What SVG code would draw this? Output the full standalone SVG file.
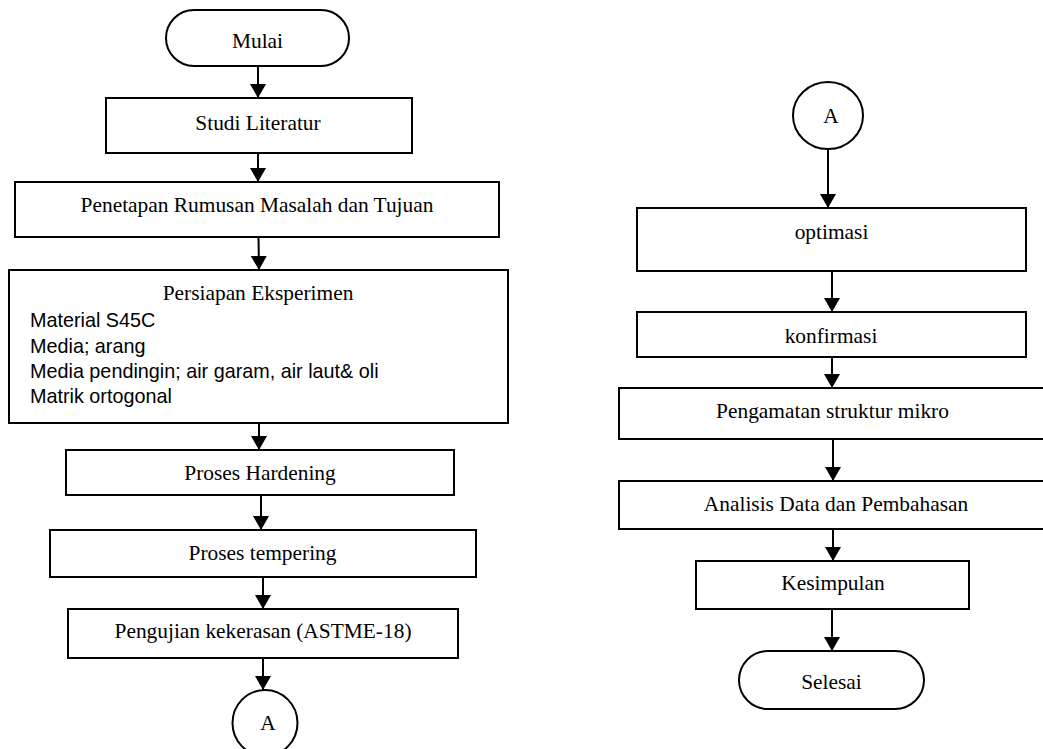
<svg xmlns="http://www.w3.org/2000/svg" width="1043" height="749" viewBox="0 0 1043 749">
<style>
.box{fill:#fff;stroke:#000;stroke-width:2}
.t{font-family:"Liberation Serif","Times New Roman",serif;font-size:21.4px;fill:#000;text-anchor:middle}
.c{font-family:"Liberation Sans",Arial,sans-serif;font-size:19.8px;fill:#000}
.ln{stroke:#000;stroke-width:2;fill:none;marker-end:url(#ah)}
</style>
<defs>
<marker id="ah" markerUnits="userSpaceOnUse" markerWidth="16" markerHeight="16" refX="14" refY="8" orient="auto">
<path d="M0,0 L14,8 L0,16 Z" fill="#000"/>
</marker>
</defs>
<rect width="1043" height="749" fill="#fff"/>
<g id="connectors">
<line class="ln" x1="258" y1="66" x2="258" y2="98"/>
<line class="ln" x1="258" y1="153" x2="258" y2="182"/>
<line class="ln" x1="258.5" y1="237" x2="259" y2="270"/>
<line class="ln" x1="259" y1="423" x2="259" y2="450"/>
<line class="ln" x1="261" y1="495" x2="261" y2="530"/>
<line class="ln" x1="263" y1="577" x2="263" y2="609"/>
<line class="ln" x1="263" y1="658" x2="263" y2="690"/>
<line class="ln" x1="828" y1="149" x2="828" y2="208"/>
<line class="ln" x1="832" y1="271" x2="832" y2="312"/>
<line class="ln" x1="832" y1="357" x2="832" y2="388"/>
<line class="ln" x1="833" y1="439" x2="833" y2="481"/>
<line class="ln" x1="833" y1="529" x2="833" y2="561"/>
<line class="ln" x1="832" y1="609" x2="832" y2="651"/>
</g>
<g id="mulai"><rect class="box" x="166" y="10" width="183" height="56" rx="28"/><text class="t" x="257.5" y="48">Mulai</text></g>
<g id="studi"><rect class="box" x="106" y="98" width="306" height="55"/><text class="t" x="258" y="130">Studi Literatur</text></g>
<g id="penetapan"><rect class="box" x="15" y="182" width="484" height="55"/><text class="t" x="257" y="212">Penetapan Rumusan Masalah dan Tujuan</text></g>
<g id="persiapan"><rect class="box" x="9" y="270" width="499" height="153"/>
<text class="t" x="258" y="300">Persiapan Eksperimen</text>
<text class="c" x="30" y="327">Material S45C</text>
<text class="c" x="30" y="353">Media; arang</text>
<text class="c" x="30" y="378">Media pendingin; air garam, air laut&amp; oli</text>
<text class="c" x="30" y="403">Matrik ortogonal</text>
</g>
<g id="hardening"><rect class="box" x="66" y="450" width="388" height="45"/><text class="t" x="260" y="480">Proses Hardening</text></g>
<g id="tempering"><rect class="box" x="50" y="530" width="426" height="47"/><text class="t" x="262.5" y="560">Proses tempering</text></g>
<g id="pengujian"><rect class="box" x="68" y="609" width="390" height="49"/><text class="t" x="263" y="638">Pengujian kekerasan (ASTME-18)</text></g>
<g id="conA1"><ellipse class="box" cx="265" cy="723" rx="32.5" ry="33"/><text class="t" x="268" y="730">A</text></g>
<g id="conA2"><ellipse class="box" cx="828" cy="115.5" rx="35" ry="33.5"/><text class="t" x="831" y="123">A</text></g>
<g id="optimasi"><rect class="box" x="637" y="208" width="389" height="63"/><text class="t" x="831.5" y="239">optimasi</text></g>
<g id="konfirmasi"><rect class="box" x="637" y="312" width="389" height="45"/><text class="t" x="831" y="343">konfirmasi</text></g>
<g id="pengamatan"><rect class="box" x="619" y="388" width="430" height="51"/><text class="t" x="832.5" y="418">Pengamatan struktur mikro</text></g>
<g id="analisis"><rect class="box" x="619" y="481" width="430" height="48"/><text class="t" x="836" y="511">Analisis Data dan Pembahasan</text></g>
<g id="kesimpulan"><rect class="box" x="696" y="561" width="273" height="48"/><text class="t" x="833" y="590">Kesimpulan</text></g>
<g id="selesai"><rect class="box" x="739" y="651" width="185" height="58" rx="29"/><text class="t" x="831.5" y="689">Selesai</text></g>
</svg>
